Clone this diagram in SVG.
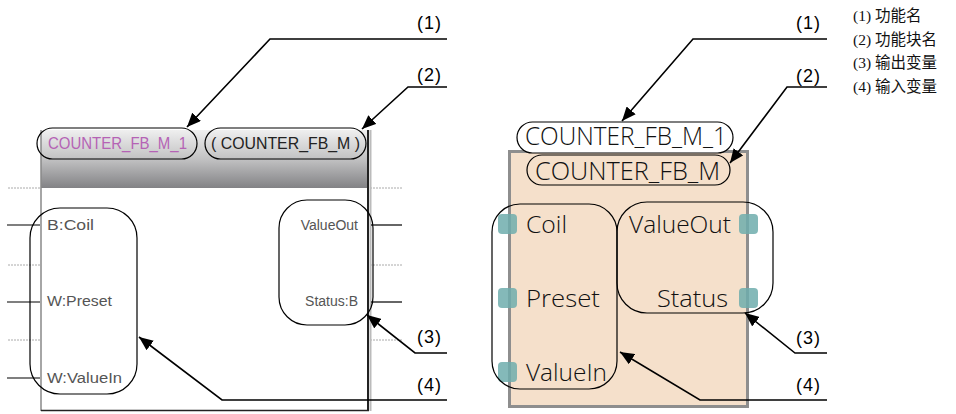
<svg xmlns="http://www.w3.org/2000/svg" width="956" height="414" viewBox="0 0 956 414">
<defs>
<marker id="ah" viewBox="0 0 14 12" refX="14" refY="6" markerWidth="14" markerHeight="12" markerUnits="userSpaceOnUse" orient="auto"><path d="M0,0 L14,6 L0,12 z" fill="#000"/></marker>
<linearGradient id="hdr" x1="0" y1="0" x2="0" y2="1"><stop offset="0" stop-color="#efefef"/><stop offset="0.5" stop-color="#c2c2c3"/><stop offset="1" stop-color="#828285"/></linearGradient>
<style>
.lead{fill:none;stroke:#000;stroke-width:1.6;marker-end:url(#ah)}
.lbl{font-family:"Liberation Sans",Arial,sans-serif;font-size:18px;fill:#000}
.leg{font-family:"Liberation Serif","Noto Sans CJK SC",serif;font-size:15.5px;fill:#111}
.ring{fill:none;stroke:#000;stroke-width:1.2}
.dot{stroke:#aaa;stroke-width:1;stroke-dasharray:2,1}
.pinl{stroke:#000;stroke-width:1.2}
.ltxt{font-family:"Liberation Sans",Arial,sans-serif;font-size:14px;fill:#555}
.rtxt{font-family:"Open Sans","Liberation Sans",Arial,sans-serif;font-weight:300;font-size:23px;fill:#111}
.ptxt{font-family:"Open Sans","Liberation Sans",Arial,sans-serif;font-weight:300;font-size:25px;fill:#111}
.pin{fill:#6fadad;opacity:0.85}
</style>
</defs>

<g id="left-block">
<line class="dot" x1="8" y1="188" x2="40" y2="188"/>
<line class="dot" x1="370" y1="188" x2="402" y2="188"/>
<line class="dot" x1="8" y1="265" x2="40" y2="265"/>
<line class="dot" x1="370" y1="265" x2="402" y2="265"/>
<line class="dot" x1="8" y1="340" x2="40" y2="340"/>
<line class="dot" x1="370" y1="340" x2="402" y2="340"/>
<rect x="41" y="130" width="327" height="58" fill="url(#hdr)"/>
<rect x="41" y="188" width="327" height="222" fill="#fff"/>
<line x1="41" y1="130" x2="41" y2="411" stroke="#888" stroke-width="1.5"/>
<line x1="368" y1="130" x2="368" y2="411" stroke="#222" stroke-width="2"/>
<line x1="370.5" y1="130" x2="370.5" y2="411" stroke="#bbb" stroke-width="2"/>
<line x1="41" y1="410.5" x2="369" y2="410.5" stroke="#222" stroke-width="1.5"/>
<line class="pinl" x1="7" y1="225" x2="40" y2="225"/>
<line class="pinl" x1="7" y1="302" x2="40" y2="302"/>
<line class="pinl" x1="7" y1="378" x2="40" y2="378"/>
<line class="pinl" x1="371" y1="225" x2="402" y2="225"/>
<line class="pinl" x1="371" y1="302" x2="402" y2="302"/>
<text class="ltxt" x="47" y="230" textLength="47" lengthAdjust="spacingAndGlyphs">B:Coil</text>
<text class="ltxt" x="47" y="306" textLength="65" lengthAdjust="spacingAndGlyphs">W:Preset</text>
<text class="ltxt" x="47" y="383" textLength="75" lengthAdjust="spacingAndGlyphs">W:ValueIn</text>
<text class="ltxt" x="358" y="230" text-anchor="end">ValueOut</text>
<text class="ltxt" x="358" y="306" text-anchor="end">Status:B</text>
</g>

<g id="left-pill-1">
<rect x="37" y="128" width="160" height="31" rx="15.5" fill="none" stroke="#000" stroke-width="1.2"/>
<text x="48" y="149" font-family="'Liberation Sans',Arial,sans-serif" font-size="17" fill="#b563b5" textLength="139" lengthAdjust="spacingAndGlyphs">COUNTER_FB_M_1</text>
</g>
<g id="left-pill-2">
<rect x="205" y="128" width="161" height="31" rx="15.5" fill="none" stroke="#000" stroke-width="1.2"/>
<text x="211" y="149" font-family="'Liberation Sans',Arial,sans-serif" font-size="17" fill="#222" textLength="149" lengthAdjust="spacingAndGlyphs">( COUNTER_FB_M )</text>
</g>
<g id="left-inputs"><rect class="ring" x="30" y="208" width="107" height="186" rx="30"/></g>
<g id="left-outputs"><rect class="ring" x="279" y="200" width="94" height="125" rx="28"/></g>

<g id="right-block">
<rect x="509.5" y="151.5" width="238" height="255" fill="#f5e0cb" stroke="#8e8e8e" stroke-width="3"/>
<rect class="pin" x="498" y="214" width="19" height="20" rx="4"/>
<rect class="pin" x="498" y="288" width="19" height="20" rx="4"/>
<rect class="pin" x="498" y="362" width="19" height="20" rx="4"/>
<rect class="pin" x="739" y="214" width="19" height="20" rx="4"/>
<rect class="pin" x="739" y="288" width="19" height="20" rx="4"/>
<text class="rtxt" x="526" y="233" textLength="41" lengthAdjust="spacingAndGlyphs">Coil</text>
<text class="rtxt" x="526" y="307" textLength="74" lengthAdjust="spacingAndGlyphs">Preset</text>
<text class="rtxt" x="526" y="381" textLength="81" lengthAdjust="spacingAndGlyphs">ValueIn</text>
<text class="rtxt" x="629" y="233" textLength="102" lengthAdjust="spacingAndGlyphs">ValueOut</text>
<text class="rtxt" x="657" y="307" textLength="71" lengthAdjust="spacingAndGlyphs">Status</text>
</g>

<g id="right-pill-1">
<rect x="517" y="122" width="216" height="31" rx="15.5" fill="#fff" stroke="#000" stroke-width="1.2"/>
<text class="ptxt" x="525" y="145" textLength="202" lengthAdjust="spacingAndGlyphs">COUNTER_FB_M_1</text>
</g>
<g id="right-pill-2">
<rect x="527" y="155" width="203" height="30" rx="15" fill="none" stroke="#000" stroke-width="1.2"/>
<text class="ptxt" x="535" y="180" textLength="185" lengthAdjust="spacingAndGlyphs">COUNTER_FB_M</text>
</g>
<g id="right-inputs"><rect class="ring" x="492" y="204" width="125" height="185" rx="28"/></g>
<g id="right-outputs"><rect class="ring" x="617" y="202" width="156" height="111" rx="30"/></g>

<g id="connectors">
<path class="lead" d="M447,39 H270 L187,127"/>
<path class="lead" d="M447,87 H408 L362,129"/>
<path class="lead" d="M447,353 H415 L367,315"/>
<path class="lead" d="M447,400 H222 L139,337"/>
<path class="lead" d="M827,39 H693 L622,121"/>
<path class="lead" d="M827,87 H787 L730,163"/>
<path class="lead" d="M827,353 H795 L745,313"/>
<path class="lead" d="M827,400 H700 L620,352"/>
</g>

<g id="labels">
<text class="lbl" x="442" y="29" text-anchor="end" letter-spacing="1">(1)</text>
<text class="lbl" x="442" y="81" text-anchor="end" letter-spacing="1">(2)</text>
<text class="lbl" x="442" y="343" text-anchor="end" letter-spacing="1">(3)</text>
<text class="lbl" x="442" y="391" text-anchor="end" letter-spacing="1">(4)</text>
<text class="lbl" x="821" y="29" text-anchor="end" letter-spacing="1">(1)</text>
<text class="lbl" x="821" y="82" text-anchor="end" letter-spacing="1">(2)</text>
<text class="lbl" x="821" y="344" text-anchor="end" letter-spacing="1">(3)</text>
<text class="lbl" x="821" y="391" text-anchor="end" letter-spacing="1">(4)</text>
</g>

<g id="legend">
<text class="leg" x="853" y="21">(1) 功能名</text>
<text class="leg" x="853" y="45">(2) 功能块名</text>
<text class="leg" x="853" y="68">(3) 输出变量</text>
<text class="leg" x="853" y="92">(4) 输入变量</text>
</g>
</svg>
